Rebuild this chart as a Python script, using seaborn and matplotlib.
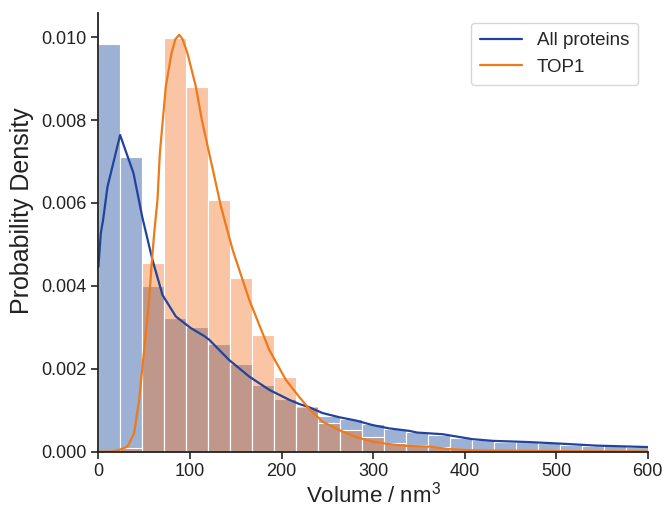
import numpy as np
import pandas as pd
import matplotlib
matplotlib.use("Agg")
import matplotlib.pyplot as plt
import seaborn as sns

# Histogram bins (nm^3) and per-bin probability densities
bin_edges = list(range(0, 601, 24))
all_density = np.array([9.83, 7.12, 4.00, 3.22, 3.00, 2.60, 2.11, 1.61, 1.26, 1.07,
                        0.85, 0.78, 0.66, 0.54, 0.47, 0.40, 0.34, 0.27, 0.23, 0.22,
                        0.20, 0.17, 0.145, 0.13, 0.11]) * 1e-3
top1_density = np.array([0.0, 0.08, 4.55, 9.99, 8.81, 6.07, 4.18, 2.82, 1.79, 1.10,
                         0.70, 0.52, 0.35, 0.20, 0.15, 0.10, 0.06, 0.04, 0.025, 0.02,
                         0.015, 0.01, 0.008, 0.006, 0.005]) * 1e-3

# Kernel density estimates
all_kde_x = [0, 2.6, 5.1, 9.9, 23.7, 38.3, 48, 59, 70, 84.6, 101, 115.5, 121, 142.8,
             164.8, 186.7, 208.4, 219.3, 230.3, 244.9, 263, 281.3, 299.5, 317.7,
             339.6, 348, 376, 408.7, 430.6, 470.7, 507, 543.5, 600]
all_kde_y = np.array([4.46, 5.27, 5.59, 6.39, 7.64, 6.72, 5.65, 4.63, 3.78, 3.26, 2.98,
                      2.79, 2.70, 2.21, 1.81, 1.49, 1.25, 1.15, 1.07, 0.93, 0.83, 0.75,
                      0.64, 0.56, 0.50, 0.46, 0.42, 0.30, 0.26, 0.23, 0.19, 0.145,
                      0.11]) * 1e-3
top1_kde_x = [0, 15, 22.6, 31.7, 39, 44.5, 48.1, 51.8, 55.4, 57.9, 60.9, 64.5, 67.1,
              73.6, 79.8, 84, 88.3, 92, 97.3, 106.4, 113, 124, 134, 146.6, 164.8,
              186.7, 204.8, 219.3, 230.3, 244.9, 263, 281.3, 299.5, 317.7, 336, 361.5,
              383.4, 412.5, 480, 540, 600]
top1_kde_y = np.array([0, 0, 0.04, 0.12, 0.44, 1.25, 2.05, 2.86, 3.66, 4.46, 5.27, 6.07,
                       7.20, 8.81, 9.61, 9.95, 10.06, 9.95, 9.61, 8.81, 8.0, 6.9, 5.9,
                       4.87, 3.66, 2.45, 1.73, 1.32, 1.03, 0.72, 0.52, 0.35, 0.24, 0.18,
                       0.14, 0.12, 0.06, 0.03, 0.016, 0.008, 0.005]) * 1e-3

series_labels = ["All proteins", "TOP1"]
y_ticks = [0.000, 0.002, 0.004, 0.006, 0.008, 0.010]
x_ticks = [0, 100, 200, 300, 400, 500, 600]

sns.set_theme(style="ticks")
plt.rcParams["font.family"] = ["Liberation Sans", "DejaVu Sans"]
plt.rcParams["mathtext.fontset"] = "custom"
plt.rcParams["mathtext.rm"] = "Liberation Sans"
plt.rcParams["mathtext.it"] = "Liberation Sans"

fig = plt.figure(figsize=(6.65, 5.08), dpi=100)
ax = fig.add_axes([0.148, 0.111, 0.826, 0.863])

centers = [(bin_edges[i] + bin_edges[i + 1]) / 2 for i in range(len(bin_edges) - 1)]
all_df = pd.DataFrame({"volume": centers, "density": all_density})
top1_df = pd.DataFrame({"volume": centers, "density": top1_density})

sns.histplot(data=all_df, x="volume", weights="density", bins=bin_edges, stat="count",
             color="#4C72B0", alpha=0.55, edgecolor="white", linewidth=0.8, ax=ax)
sns.histplot(data=top1_df, x="volume", weights="density", bins=bin_edges, stat="count",
             color="#F27628", alpha=0.42, edgecolor="white", linewidth=0.8, ax=ax)

sns.lineplot(x=all_kde_x, y=all_kde_y, color="#22439C", lw=1.6, ax=ax,
             label=series_labels[0])
sns.lineplot(x=top1_kde_x, y=top1_kde_y, color="#EE7A1A", lw=1.6, ax=ax,
             label=series_labels[1])

ax.set_xlim(0, 600)
ax.set_ylim(0, 0.01058)
ax.set_xticks(x_ticks)
ax.set_yticks(y_ticks)
ax.set_yticklabels([f"{v:.3f}" for v in y_ticks])
ax.tick_params(axis="both", labelsize=13, length=5, width=1.2, colors="#222222")
for side in ("left", "bottom"):
    ax.spines[side].set_linewidth(1.3)
    ax.spines[side].set_color("#222222")
sns.despine(ax=ax)

ax.set_xlabel("Volume / nm$^3$", fontsize=16, color="#222222", labelpad=0.5)
ax.set_ylabel("Probability Density", fontsize=18, color="#222222")
ax.yaxis.set_label_coords(-0.118, 0.55)

leg = ax.legend(loc="upper right", fontsize=13.5, frameon=True, handlelength=2.2,
                borderpad=0.5, bbox_to_anchor=(1.0, 1.0))
leg.get_frame().set_edgecolor("#cccccc")

fig.savefig("out.png", dpi=100)
